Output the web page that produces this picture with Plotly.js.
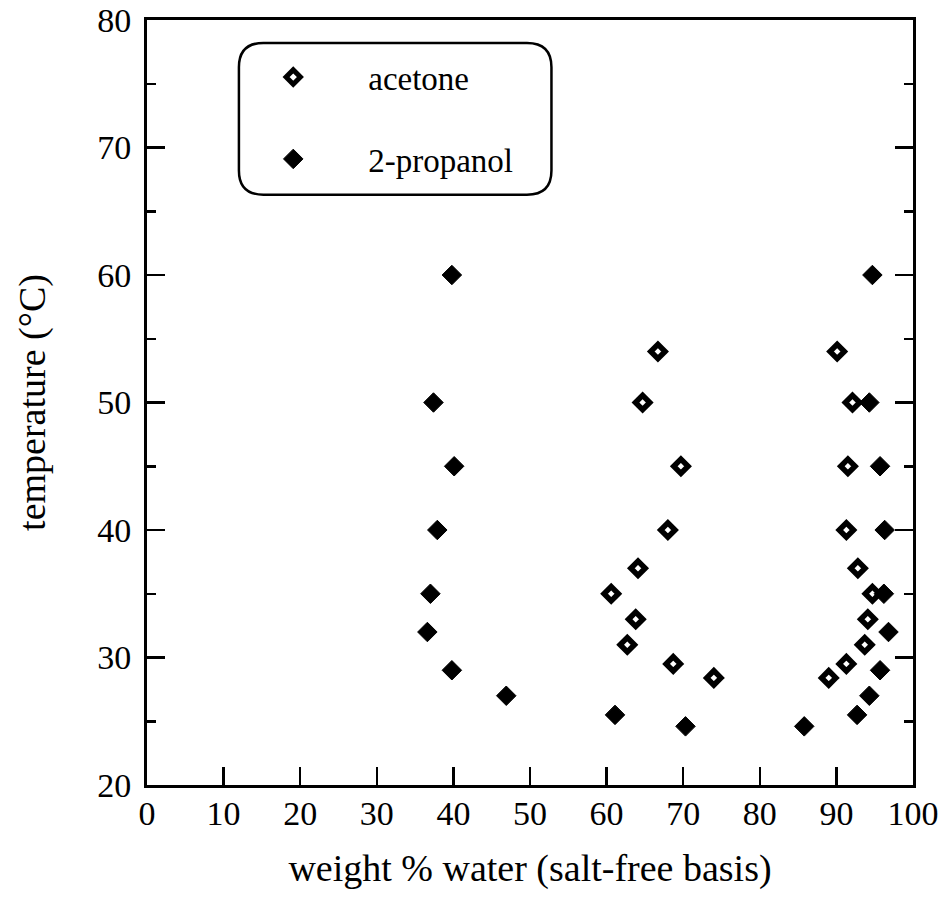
<!DOCTYPE html>
<html>
<head>
<meta charset="utf-8">
<script src="https://cdn.plot.ly/plotly-3.0.1.min.js"></script>
<style>
  html, body { margin: 0; padding: 0; background: #fff; }
  #chart { width: 946px; height: 908px; }
</style>
</head>
<body>
<div id="chart"></div>
<script>
// Cloud-point data: weight % water (salt-free basis) vs temperature (°C)
const acetoneWater = [66.7, 90.1, 64.7, 92.1, 69.7, 91.5, 68.0, 91.3, 64.1, 92.8,
                      60.6, 94.7, 63.8, 94.1, 62.7, 93.7, 68.7, 91.3, 74.0, 89.0];
const acetoneTemp  = [54, 54, 50, 50, 45, 45, 40, 40, 37, 37,
                      35, 35, 33, 33, 31, 31, 29.5, 29.5, 28.4, 28.4];

const propanolWater = [39.8, 37.4, 40.1, 37.9, 37.0, 36.6, 39.8, 46.9, 61.1, 70.3,
                       85.8, 92.7, 94.3, 95.7, 96.8, 96.2, 96.3, 95.7, 94.3, 94.7];
const propanolTemp  = [60, 50, 45, 40, 35, 32, 29, 27, 25.5, 24.6,
                       24.6, 25.5, 27, 29, 32, 35, 40, 45, 50, 60];

const seriesNames = ['acetone', '2-propanol'];
const xTicks = [0, 10, 20, 30, 40, 50, 60, 70, 80, 90, 100];
const yTicks = [20, 30, 40, 50, 60, 70, 80];

const serif = 'Liberation Serif, Times New Roman, serif';

const traces = [
  {
    x: acetoneWater, y: acetoneTemp, name: seriesNames[0],
    type: 'scatter', mode: 'markers', legendgroup: 'a',
    marker: { symbol: 'diamond-open', size: 11, color: '#000',
              line: { width: 5.5, color: '#000' } }
  },
  {
    x: propanolWater, y: propanolTemp, name: seriesNames[1],
    type: 'scatter', mode: 'markers', legendgroup: 'b',
    marker: { symbol: 'diamond', size: 15, color: '#000',
              line: { width: 1, color: '#000' } }
  }
];

// Rounded frame drawn behind the legend entries (data coordinates)
const bx0 = 12.0, bx1 = 52.8, by0 = 66.3, by1 = 78.2, rx = 3.2, ry = 1.9;
const boxPath = `M ${bx0 + rx},${by1} L ${bx1 - rx},${by1} Q ${bx1},${by1} ${bx1},${by1 - ry} ` +
                `L ${bx1},${by0 + ry} Q ${bx1},${by0} ${bx1 - rx},${by0} ` +
                `L ${bx0 + rx},${by0} Q ${bx0},${by0} ${bx0},${by0 + ry} ` +
                `L ${bx0},${by1 - ry} Q ${bx0},${by1} ${bx0 + rx},${by1} Z`;

const layout = {
  width: 946, height: 908,
  margin: { l: 147, r: 33, t: 20, b: 123 },
  paper_bgcolor: '#fff', plot_bgcolor: '#fff',
  font: { family: serif, color: '#000', size: 34 },
  showlegend: true,
  legend: {
    x: 0.093, y: 0.962, xanchor: 'left', yanchor: 'top',
    bgcolor: 'rgba(0,0,0,0)', borderwidth: 0,
    font: { family: serif, size: 33, color: '#000' },
    itemwidth: 140, tracegroupgap: 36, traceorder: 'grouped'
  },
  xaxis: {
    range: [0, 100], tickvals: xTicks, ticktext: xTicks.map(String),
    ticks: 'inside', ticklen: 18, tickwidth: 2.5, tickcolor: '#000',
    showline: true, linewidth: 3, linecolor: '#000', mirror: true,
    showgrid: false, zeroline: false,
    tickfont: { family: serif, size: 34 },
    ticklabelstandoff: -4,
    title: { text: 'weight % water (salt-free basis)', font: { family: serif, size: 38 }, standoff: 24 }
  },
  yaxis: {
    range: [20, 80], tickvals: yTicks, ticktext: yTicks.map(String),
    ticks: 'inside', ticklen: 18, tickwidth: 2.5, tickcolor: '#000',
    minor: { dtick: 5, ticks: 'inside', ticklen: 9, tickwidth: 2.5, tickcolor: '#000' },
    showline: true, linewidth: 3, linecolor: '#000', mirror: 'ticks',
    showgrid: false, zeroline: false,
    tickfont: { family: serif, size: 34 },
    ticklabelstandoff: 6,
    title: { text: 'temperature (°C)', font: { family: serif, size: 38 }, standoff: 40 }
  },
  shapes: [
    { type: 'path', xref: 'x', yref: 'y', path: boxPath,
      line: { color: '#000', width: 2.5 }, fillcolor: 'rgba(0,0,0,0)', layer: 'below' }
  ]
};

Plotly.newPlot('chart', traces, layout, { displayModeBar: false, staticPlot: true });
</script>
</body>
</html>
